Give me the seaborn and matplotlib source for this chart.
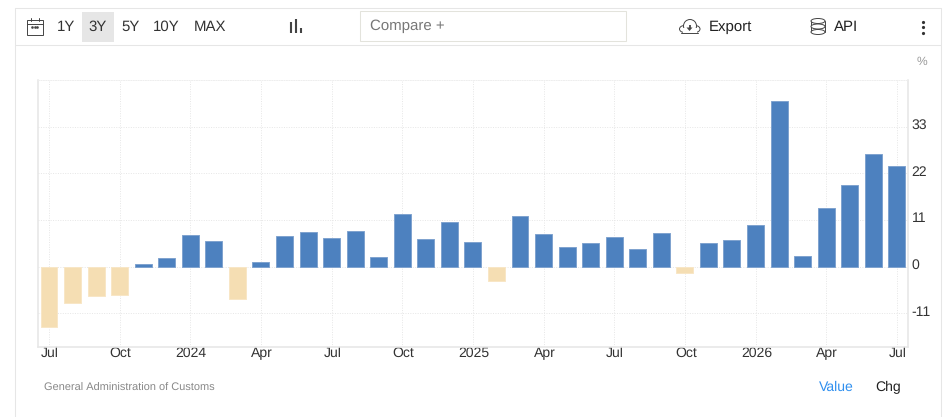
import matplotlib
matplotlib.use("Agg")
import matplotlib.pyplot as plt
from matplotlib.patches import Rectangle, Ellipse, Polygon
from matplotlib.transforms import ScaledTranslation
import seaborn as sns
import pandas as pd

months = ["Jul 23","Aug 23","Sep 23","Oct 23","Nov 23","Dec 23",
          "Jan 24","Feb 24","Mar 24","Apr 24","May 24","Jun 24","Jul 24","Aug 24","Sep 24","Oct 24","Nov 24","Dec 24",
          "Jan 25","Feb 25","Mar 25","Apr 25","May 25","Jun 25","Jul 25","Aug 25","Sep 25","Oct 25","Nov 25","Dec 25",
          "Jan 26","Feb 26","Mar 26","Apr 26","May 26","Jun 26","Jul 26"]
values = [-14.3,-8.6,-6.9,-6.6,0.6,2.0,
          7.5,6.1,-7.7,1.2,7.3,8.2,6.7,8.4,2.3,12.4,6.5,10.5,
          5.8,-3.3,12.0,7.7,4.6,5.6,6.9,4.1,7.9,-1.5,5.6,6.3,
          9.9,39.1,2.5,13.9,19.3,26.6,23.8]
x_tick_months = ["Jul 23","Oct 23","Jan 24","Apr 24","Jul 24","Oct 24","Jan 25","Apr 25","Jul 25","Oct 25","Jan 26","Apr 26","Jul 26"]
x_tick_labels = ["Jul","Oct","2024","Apr","Jul","Oct","2025","Apr","Jul","Oct","2026","Apr","Jul"]
y_ticks = [-11,0,11,22,33]
toolbar_ranges = ["1Y","3Y","5Y","10Y","MAX"]

W,H = 943,417
sns.set_theme(style="white")
plt.rcParams['font.family'] = ['Liberation Sans','DejaVu Sans']
plt.rcParams['axes.unicode_minus'] = False
plt.rcParams['text.hinting'] = 'none'
plt.rcParams['text.hinting_factor'] = 1
fig = plt.figure(figsize=(W/100,H/100),dpi=100,facecolor="white")
ax = fig.add_axes([38/W,1-347/H,(908-38)/W,(347-80)/H])
df = pd.DataFrame({"month":months,"value":values})
df["sign"] = ["up" if v>=0 else "down" for v in values]
sns.barplot(data=df,x="month",y="value",hue="sign",order=months,dodge=False,
            palette={"up":"#4d81bf","down":"#f5deb3"},width=0.72,saturation=1,
            linewidth=0,legend=False,ax=ax,zorder=3)
for p in ax.patches:
    if p.get_height()==p.get_height() and p.get_width()>0:
        c = "#7fa3cf" if p.get_height()>=0 else "#f8e6c6"
        p.set_edgecolor(c); p.set_linewidth(0.7)
ax.set_xlim(-0.467,36.475)
ax.set_ylim(-18.9,44.0)
ax.set_xlabel(""); ax.set_ylabel("")
ax.set_xticks([months.index(m) for m in x_tick_months])
ax.set_xticklabels(x_tick_labels,fontsize=10.4,color="#333333")
ax.set_yticks(y_ticks)
ax.yaxis.tick_right()
ax.tick_params(axis="y",length=0,pad=2.5,labelsize=10.2,labelcolor="#333333")
ax.tick_params(axis="x",length=0,pad=0)
off = ScaledTranslation(0,2.8/100,fig.dpi_scale_trans)
for t in ax.get_yticklabels():
    t.set_transform(t.get_transform()+off)
off_x = ScaledTranslation(1.0/100,0,fig.dpi_scale_trans)
for t in ax.get_xticklabels():
    t.set_transform(t.get_transform()+off_x)
ax.grid(True,color="#e6e6e6",linewidth=0.7,linestyle=(0,(1,1.5)),zorder=0)
ax.set_axisbelow(True)
for s in ["left","right","bottom"]:
    ax.spines[s].set_color("#e6e6e6"); ax.spines[s].set_linewidth(1.1)
ax.spines["top"].set_color("#eeeeee"); ax.spines["top"].set_linewidth(0.7); ax.spines["top"].set_linestyle((0,(1,1.5)))

ov = fig.add_axes([0,0,1,1],zorder=5)
ov.set_xlim(0,W); ov.set_ylim(H,0); ov.axis("off"); ov.patch.set_alpha(0)
line = "#e6e6e6"
ov.plot([15,15,941,941],[417,8,8,417],color=line,lw=0.75)
ov.plot([15,941],[45,45],color=line,lw=0.75)
ov.add_patch(Rectangle((82,12),32,30,fc="#e6e6e6",ec="none"))
ov.add_patch(Rectangle((360,11),266,30,fc="white",ec="#e3e3dc",lw=0.75))
for label,x in zip(toolbar_ranges,[66.2,98,130.7,166.7,210.2]):
    ov.text(x,27,label,ha="center",va="center",fontsize=10.6,color="#333333")
ov.text(370,26.5,"Compare +",ha="left",va="center",fontsize=10.6,color="#777777")
ov.text(709,27,"Export",ha="left",va="center",fontsize=10.5,color="#222222")
ov.text(834,27,"API",ha="left",va="center",fontsize=10.5,color="#222222")
ov.text(921.5,62,"%",ha="center",va="center",fontsize=8.8,color="#999999")
ov.text(43.5,388,"General Administration of Customs",ha="left",va="center",fontsize=7.65,color="#888888")
ov.text(836,387,"Value",ha="center",va="center",fontsize=10,color="#2f8fef")
ov.text(888,387,"Chg",ha="center",va="center",fontsize=10,color="#222222")

icon = "#444444"
# calendar
ov.add_patch(Rectangle((27,20),15.5,14.5,fc="none",ec=icon,lw=0.7))
ov.plot([27,42.5],[23.5,23.5],color=icon,lw=0.7)
ov.plot([30.5,30.5],[18,21],color=icon,lw=0.7); ov.plot([39,39],[18,21],color=icon,lw=0.7)
ov.plot([32,34.5,37],[27,27,27],ls="none",marker="s",ms=0.8,color=icon)
# chart-type bars
for x,t in zip([290.7,296,301],[22,19,28]):
    ov.plot([x,x],[t,33],color=icon,lw=1.5,solid_capstyle="butt")
# cloud
ov.add_patch(Ellipse((684.5,29),10,7,fc="none",ec=icon,lw=0.7))
ov.add_patch(Ellipse((695,29),10,7,fc="none",ec=icon,lw=0.7))
ov.add_patch(Ellipse((690,26),13,13,fc="white",ec=icon,lw=0.7,zorder=6))
ov.add_patch(Rectangle((683,28),14,5,fc="white",ec="none",zorder=6))
ov.plot([681,698],[33.3,33.3],color=icon,lw=0.7,zorder=7)
ov.plot([689.5,689.5],[24.5,27.5],color=icon,lw=1.3,zorder=7,solid_capstyle="butt")
ov.add_patch(Polygon([(686.5,27.5),(692.5,27.5),(689.5,31)],fc=icon,ec="none",zorder=7))
# database
ov.plot([811,811],[21,32],color=icon,lw=0.7); ov.plot([825,825],[21,32],color=icon,lw=0.7)
for cy in [21,26.5,32]:
    e = Ellipse((818,cy),14,5,fc="white",ec=icon,lw=0.7,zorder=4)
    ov.add_patch(e)
# menu dots
ov.plot([923,923,923],[21.5,27,32.5],ls="none",marker="o",ms=2.3,mew=0,color="#333333")

fig.savefig("out.png",dpi=100,facecolor="white")
